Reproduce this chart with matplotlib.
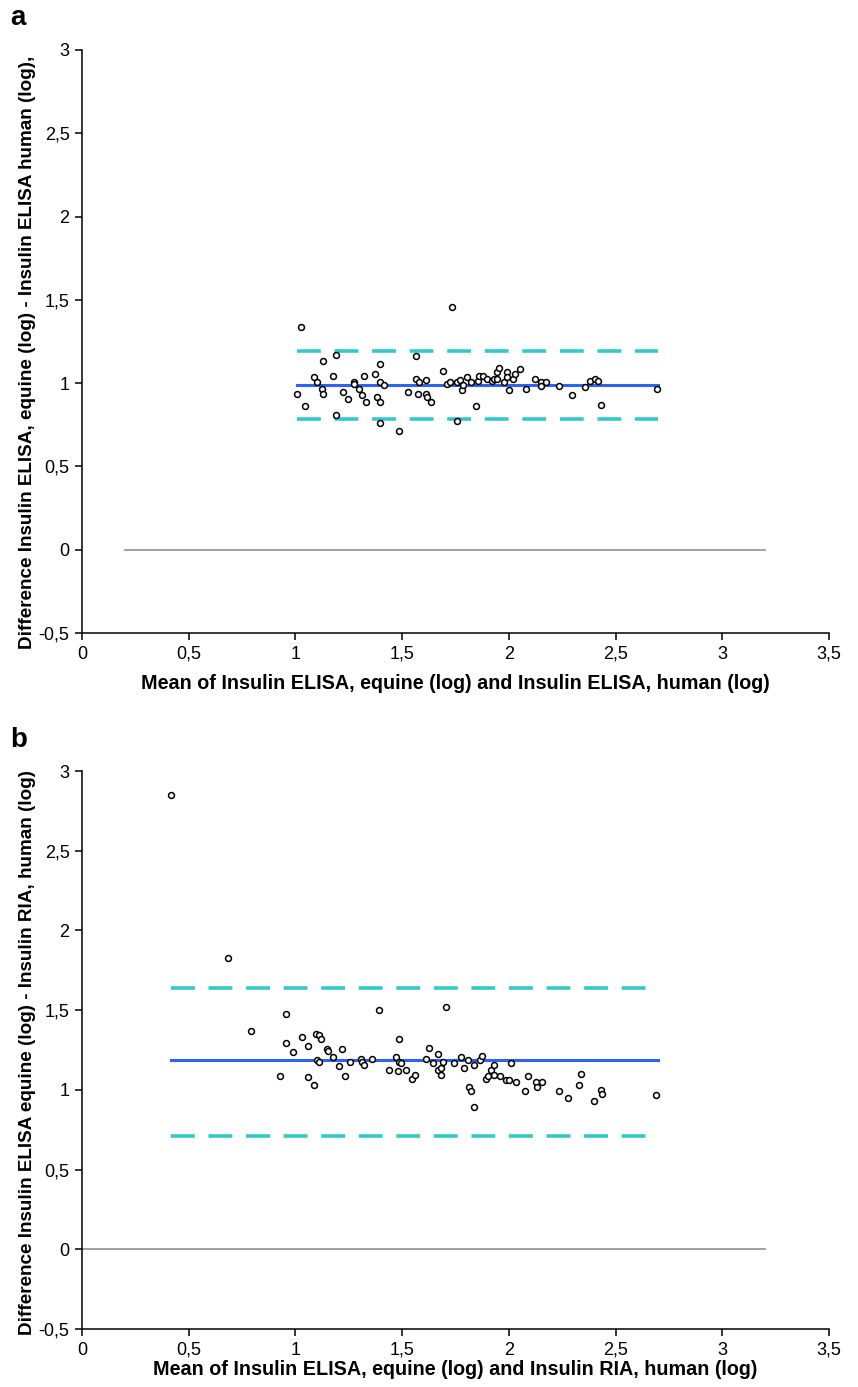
import matplotlib
matplotlib.use("Agg")
import matplotlib.pyplot as plt

plt.rcParams['font.family'] = ['Liberation Sans', 'DejaVu Sans']

# panel a: ELISA equine vs ELISA human (Bland-Altman)
a_mean = [1.025, 1.009, 1.046, 1.086, 1.101, 1.123, 1.131, 1.131, 1.176, 1.192,
          1.192, 1.223, 1.245, 1.275, 1.275, 1.298, 1.314, 1.321, 1.329, 1.375,
          1.382, 1.396, 1.396, 1.396, 1.396, 1.414, 1.487, 1.526, 1.565, 1.565,
          1.573, 1.580, 1.610, 1.610, 1.618, 1.634, 1.693, 1.709, 1.724, 1.732,
          1.756, 1.756, 1.771, 1.779, 1.787, 1.802, 1.823, 1.846, 1.854, 1.862,
          1.877, 1.899, 1.923, 1.931, 1.946, 1.946, 1.954, 1.976, 1.992, 1.992,
          1.999, 2.021, 2.029, 2.052, 2.082, 2.121, 2.151, 2.151, 2.174, 2.235,
          2.296, 2.357, 2.379, 2.402, 2.418, 2.434, 2.693]
a_diff = [1.337, 0.936, 0.860, 1.034, 1.007, 0.966, 0.936, 1.133, 1.044, 1.170,
          0.810, 0.946, 0.906, 1.007, 0.997, 0.966, 0.926, 1.044, 0.888, 1.054,
          0.918, 1.112, 1.007, 0.888, 0.762, 0.986, 0.712, 0.946, 1.162, 1.024,
          0.936, 1.004, 1.016, 0.936, 0.916, 0.888, 1.074, 0.996, 1.007, 1.454,
          0.772, 1.007, 1.016, 0.956, 0.986, 1.034, 1.004, 0.860, 1.014, 1.044,
          1.044, 1.024, 1.014, 1.024, 1.024, 1.064, 1.092, 1.004, 1.064, 1.034,
          0.956, 1.024, 1.054, 1.082, 0.966, 1.024, 1.004, 0.984, 1.004, 0.984,
          0.926, 0.976, 1.014, 1.024, 1.014, 0.868, 0.966]
a_bias = 0.99
a_limits = [1.195, 0.786]
a_range = [1.007, 2.70]
a_zero = [0.2, 3.2]

# panel b: ELISA equine vs RIA human
b_mean = [0.417, 0.683, 0.790, 0.928, 0.958, 0.958, 0.987, 1.031, 1.059, 1.059,
          1.089, 1.097, 1.112, 1.119, 1.103, 1.111, 1.147, 1.154, 1.176, 1.204,
          1.220, 1.232, 1.256, 1.306, 1.314, 1.320, 1.357, 1.390, 1.437, 1.473,
          1.487, 1.487, 1.495, 1.479, 1.517, 1.545, 1.559, 1.610, 1.625, 1.646,
          1.668, 1.668, 1.682, 1.682, 1.690, 1.706, 1.742, 1.777, 1.791, 1.807,
          1.813, 1.821, 1.835, 1.835, 1.865, 1.873, 1.893, 1.901, 1.915, 1.929,
          1.929, 1.959, 1.987, 2.002, 2.010, 2.032, 2.074, 2.090, 2.126, 2.134,
          2.156, 2.234, 2.277, 2.337, 2.329, 2.401, 2.431, 2.438, 2.691]
b_diff = [2.848, 1.827, 1.369, 1.088, 1.479, 1.294, 1.235, 1.332, 1.273, 1.078,
          1.029, 1.353, 1.342, 1.321, 1.186, 1.174, 1.254, 1.243, 1.204, 1.147,
          1.254, 1.088, 1.174, 1.195, 1.174, 1.155, 1.195, 1.498, 1.126, 1.205,
          1.321, 1.176, 1.166, 1.117, 1.126, 1.069, 1.096, 1.195, 1.262, 1.166,
          1.224, 1.126, 1.136, 1.096, 1.176, 1.517, 1.166, 1.205, 1.136, 1.185,
          1.021, 0.991, 1.155, 0.893, 1.185, 1.214, 1.067, 1.088, 1.126, 1.096,
          1.155, 1.088, 1.059, 1.059, 1.166, 1.048, 0.991, 1.088, 1.048, 1.021,
          1.048, 0.991, 0.951, 1.098, 1.031, 0.933, 1.002, 0.972, 0.970]
b_bias = 1.185
b_limits = [1.638, 0.712]
b_range = [0.417, 2.70]
b_zero = [0.0, 3.2]

x_ticks = [0, 0.5, 1, 1.5, 2, 2.5, 3, 3.5]
y_ticks = [-0.5, 0, 0.5, 1, 1.5, 2, 2.5, 3]

BLUE = '#2f62f2'
TEAL = '#33c9c9'
GREY = '#9a9a9a'


def comma(v):
    s = ('%g' % v).replace('.', ',')
    return s


def panel(ax, xs, ys, bias, limits, rng, zero, xlabel, ylabel, letter, ylab_y, xpad):
    ax.plot(zero, [0, 0], color=GREY, lw=1.3, zorder=1)
    for lim in limits:
        ax.plot(rng, [lim, lim], color=TEAL, lw=2.6, linestyle=(0, (6.6, 3.8)),
                dash_capstyle='butt', zorder=2)
    ax.plot(rng, [bias, bias], color=BLUE, lw=2.2, zorder=2)
    ax.scatter(xs, ys, s=18, facecolors='white', edgecolors='black',
               linewidths=1.1, zorder=3)

    ax.set_xlim(0, 3.5)
    ax.set_ylim(-0.5, 3)
    ax.set_xticks(x_ticks)
    ax.set_yticks(y_ticks)
    ax.set_xticklabels([comma(v) for v in x_ticks], fontsize=13)
    ax.set_yticklabels([comma(v) for v in y_ticks], fontsize=13)
    ax.tick_params(direction='out', length=5, width=1.1, pad=4)
    for side in ['top', 'right']:
        ax.spines[side].set_visible(False)
    for side in ['left', 'bottom']:
        ax.spines[side].set_linewidth(1.1)
    ax.set_xlabel(xlabel, fontsize=14.2, fontweight='bold', labelpad=xpad)
    ax.set_ylabel(ylabel, fontsize=13.6, fontweight='bold')
    ax.yaxis.set_label_coords(-0.062, ylab_y)
    ax.text(-0.096, 1.055, letter, transform=ax.transAxes, fontsize=20,
            fontweight='bold', va='center', ha='left')


fig = plt.figure(figsize=(8.58, 13.87), dpi=100)
ax1 = fig.add_axes([0.0956, 0.5436, 0.8706, 0.4204])
ax2 = fig.add_axes([0.0956, 0.0418, 0.8706, 0.4023])

panel(ax1, a_mean, a_diff, a_bias, a_limits, a_range, a_zero,
      'Mean of Insulin ELISA, equine (log) and Insulin ELISA, human (log)',
      'Difference Insulin ELISA, equine (log) - Insulin ELISA human (log),', 'a',
      0.482, 8)
panel(ax2, b_mean, b_diff, b_bias, b_limits, b_range, b_zero,
      'Mean of Insulin ELISA, equine (log) and Insulin RIA, human (log)',
      'Difference Insulin ELISA equine (log) - Insulin RIA, human (log)', 'b',
      0.495, 1)

fig.savefig('out.png', dpi=100)
